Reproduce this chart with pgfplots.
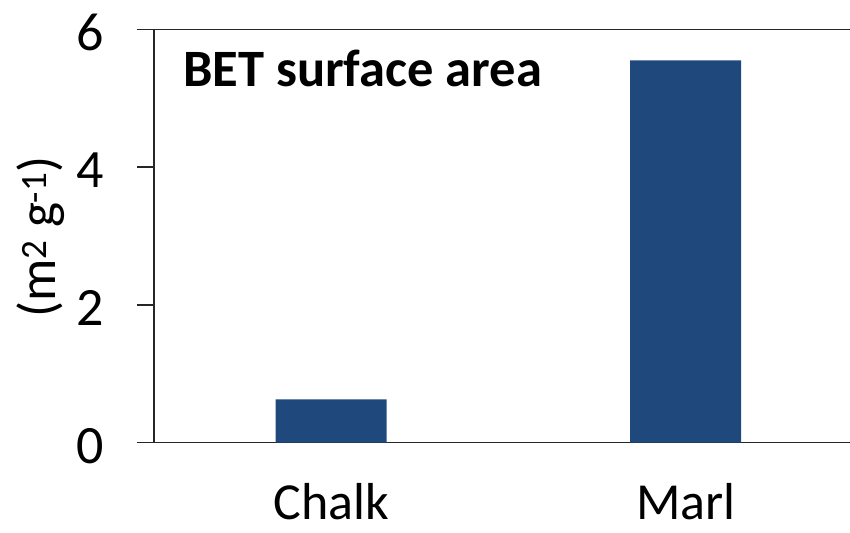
\documentclass[border=0pt]{standalone}
\usepackage{fontspec}
\setmainfont{Carlito}
\usepackage{pgfplots}
\pgfplotsset{compat=1.18}
\definecolor{barblue}{RGB}{31,73,125}

\begin{document}
\begin{tikzpicture}
  \begin{axis}[
    name=ax,
    scale only axis,
    width=696pt, height=413.4pt,
    xmin=-0.5, xmax=1.4634,
    ymin=0, ymax=6,
    ytick={0,2,4,6},
    xtick={0,1},
    xticklabels={Chalk,Marl},
    axis x line=bottom, axis y line=left,
    axis line style={line width=1.5pt, black!85, -},
    tick align=outside,
    major tick length=17pt,
    ytick style={line width=1.5pt, black!85},
    xtick style={draw=none},
    ybar, bar width=111pt,
    /pgf/number format/assume math mode=true,
    yticklabel style={font=\fontsize{54}{64}\selectfont, anchor=east, xshift=-30pt, yshift=-3pt},
    xticklabel style={font=\fontsize{52}{62}\selectfont, yshift=-23pt, text depth=0pt, inner sep=0pt},
    every axis y label/.style={at={(rel axis cs:-0.1624,0.4976)}, rotate=90, anchor=center},
    ylabel={\fontsize{53}{63}\selectfont (m\textsuperscript{2} g\textsuperscript{-1})},
    clip=false,
  ]
  \addplot[fill=barblue, draw=none] coordinates {(0,0.63) (1,5.55)};
  \draw[line width=1.5pt, black!85] (axis cs:-0.5,6) -- (axis cs:1.4634,6);
  \node[anchor=base west, inner sep=0, font=\fontsize{52.5}{60}\selectfont\bfseries]
    at (rel axis cs:0.0417,0.861) {BET surface area};
  \end{axis}
  \pgfresetboundingbox
  \path ([shift={(-154pt,-90.3pt)}]ax.south west) rectangle ([shift={(0pt,29.3pt)}]ax.north east);
\end{tikzpicture}
\end{document}
